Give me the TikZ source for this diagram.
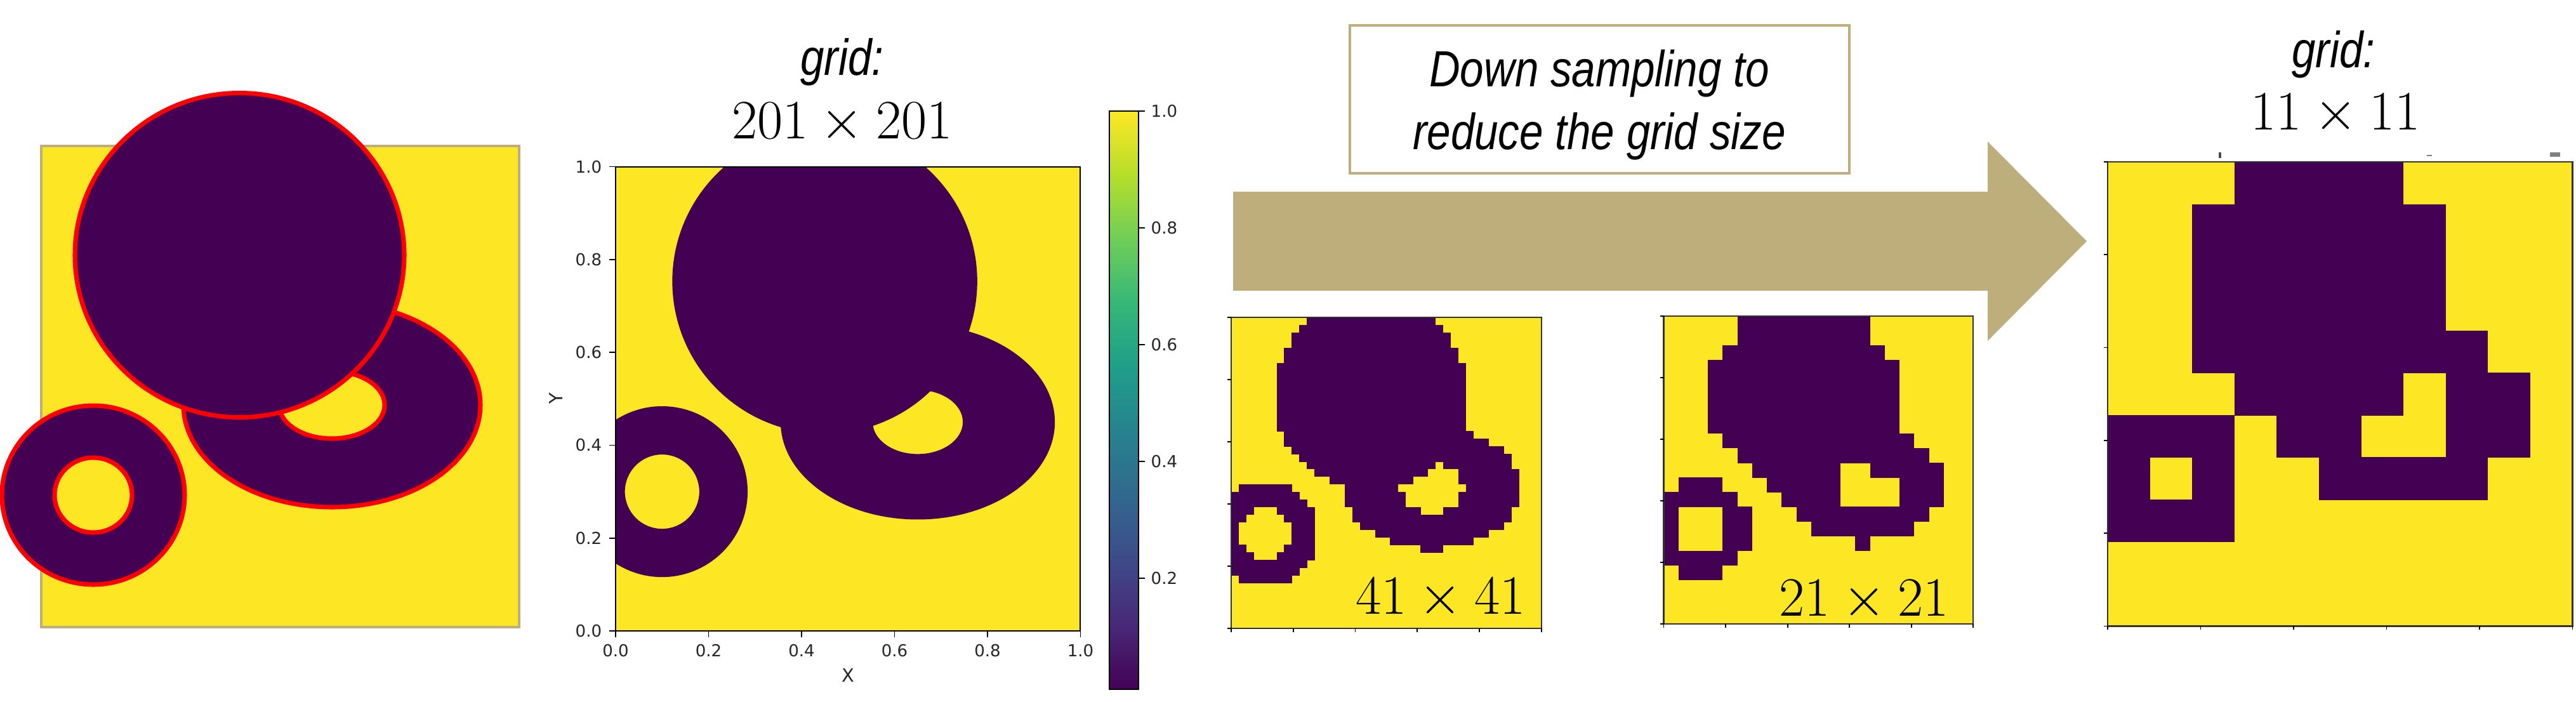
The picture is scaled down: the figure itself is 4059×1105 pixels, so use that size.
\documentclass[tikz,border=0pt]{standalone}
\usepackage{fontspec}
\newfontfamily\condsans[FakeStretch=0.84]{Liberation Sans}
\newfontfamily\djv{DejaVu Sans}
\definecolor{vyel}{HTML}{FDE725}
\definecolor{vpur}{HTML}{440154}
\definecolor{tanc}{HTML}{BDAE7C}
\definecolor{vir0}{HTML}{440154}
\definecolor{vir1}{HTML}{482878}
\definecolor{vir2}{HTML}{3E4A89}
\definecolor{vir3}{HTML}{31688E}
\definecolor{vir4}{HTML}{26828E}
\definecolor{vir5}{HTML}{1F9E89}
\definecolor{vir6}{HTML}{35B779}
\definecolor{vir7}{HTML}{6ECE58}
\definecolor{vir8}{HTML}{B5DE2B}
\definecolor{vir9}{HTML}{FDE725}
\begin{document}
\begin{tikzpicture}[x=0.01cm,y=-0.01cm,
  redshape/.style={draw=red, line width=2pt},
  axisline/.style={draw=black, line width=0.6pt},
  panelframe/.style={draw=black!80, line width=0.6pt},
  tickl/.style={draw=black, line width=0.5pt},
  ticklab/.style={font=\djv\fontsize{7.4}{8}\selectfont, text=black!85, inner sep=0pt},
  axlab/.style={font=\djv\fontsize{8.2}{9}\selectfont, text=black!85, inner sep=0pt},
  ittext/.style={font=\condsans\itshape\fontsize{22.8}{27}\selectfont, inner sep=0pt},
  mathlab/.style={font=\fontsize{24.75}{30}\selectfont, inner sep=0pt}]
\useasboundingbox (0,0) rectangle (4059,1105);
\fill[white] (0,0) rectangle (4059,1105);

% ---------- panel 1: geometry ----------
\fill[vyel] (65,230) rectangle (818,988);
\draw[tanc, line width=0.9pt] (65,230) rectangle (818,988);
\path[redshape, fill=vpur] (147,780) ellipse [x radius=144, y radius=141];
\path[redshape, fill=vyel] (147,780) ellipse [x radius=61, y radius=59];
\path[redshape, fill=vpur] (523,638) ellipse [x radius=234, y radius=161];
\path[redshape, fill=vyel] (523,638) ellipse [x radius=83, y radius=53];
\path[redshape, fill=vpur] (377.5,402) ellipse [x radius=259.5, y radius=255.5];

% ---------- panel 2: 201 x 201 plot ----------
\node[ittext, anchor=base] (g1) at (1327,118) {grid:};
\node[mathlab, anchor=base] (n201) at (1327,218) {$201\times201$};
\begin{scope}[shift={(970,994)}, x=7.32cm, y=7.31cm]
  \fill[vyel] (0,0) rectangle (1,1);
  \begin{scope}
    \clip (0,0) rectangle (1,1);
    \fill[vpur, even odd rule] (0.65,0.45) ellipse [x radius=0.295, y radius=0.21]
         (0.65,0.45) ellipse [x radius=0.097, y radius=0.069];
    \fill[vpur] (0.45,0.753) circle [radius=0.328];
    \fill[vpur, even odd rule] (0.1,0.3) circle [radius=0.184] (0.1,0.3) circle [radius=0.08];
  \end{scope}
  \draw[axisline] (0,0) rectangle (1,1);
  \foreach \p/\l [count=\k] in {0/0.0,0.2/0.2,0.4/0.4,0.6/0.6,0.8/0.8,1/1.0}{
    \draw[tickl] (\p,0) -- ++(0,-0.1cm) node[ticklab, anchor=north, yshift=-0.1cm] (xt\k) {\l};
    \draw[tickl] (0,\p) -- ++(-0.1cm,0) node[ticklab, anchor=east, xshift=-0.11cm] (yt\k) {\l};
  }
\end{scope}
\node[axlab] (xlab) at (1336,1064) {X};
\node[axlab, rotate=90] (ylab) at (876,628) {Y};

% colorbar
\foreach \k/\ca/\cb in {0/vir0/vir1,1/vir1/vir2,2/vir2/vir3,3/vir3/vir4,4/vir4/vir5,5/vir5/vir6,6/vir6/vir7,7/vir7/vir8,8/vir8/vir9}{
  \shade[bottom color=\ca, top color=\cb] (1748,{1086-911*\k/9+0.5}) rectangle (1794,{1086-911*(\k+1)/9});
}
\draw[axisline] (1748,175) rectangle (1794,1086);
\foreach \v/\yy [count=\k] in {1.0/175,0.8/359,0.6/543,0.4/727,0.2/911}{
  \draw[tickl] (1794,\yy) -- (1804,\yy);
  \node[ticklab, anchor=west] (cb\k) at (1813,\yy) {\v};
}

% ---------- arrow and text box ----------
\fill[tanc] (1943,302) -- (3132,302) -- (3132,223) -- (3288,380) -- (3132,537) -- (3132,458) -- (1943,458) -- cycle;
\draw[tanc, line width=0.9pt, fill=white] (2127,40) rectangle (2914,273);
\node[ittext, anchor=base] (t1) at (2520,136) {Down sampling to};
\node[ittext, anchor=base] (t2) at (2520,235) {reduce the grid size};

% ---------- panel 41 x 41 ----------
\begin{scope}[shift={(1940,500)}, x=0.11915cm, y=-0.11941cm]
  \fill[vyel] (0,0) rectangle (41,41);
  \foreach \j in {0,...,40}{
    \foreach \i in {0,...,40}{
      \pgfmathsetmacro\xx{\i/40}
      \pgfmathsetmacro\yy{1-\j/40}
      \pgfmathsetmacro\dc{(\xx-0.45)*(\xx-0.45)+(\yy-0.76)*(\yy-0.76)}
      \pgfmathsetmacro\de{((\xx-0.65)/0.29)*((\xx-0.65)/0.29)+((\yy-0.45)/0.202)*((\yy-0.45)/0.202)}
      \pgfmathsetmacro\dh{((\xx-0.65)/0.105)*((\xx-0.65)/0.105)+((\yy-0.45)/0.08)*((\yy-0.45)/0.08)}
      \pgfmathsetmacro\ds{(\xx-0.1)*(\xx-0.1)+(\yy-0.3)*(\yy-0.3)}
      \pgfmathtruncatemacro\inside{or(\dc<0.1024, or(and(\de<1,\dh>1), and(\ds<0.02924,\ds>0.007225)))}
      \ifnum\inside=1 \fill[vpur] (\i,\j) rectangle (\i+1.04,\j+1.04);\fi
    }
  }
  \draw[panelframe] (0,0) rectangle (41,41);
  \foreach \f in {0,0.2,0.4,0.6,0.8,1}{
    \draw[tickl] (0,41*\f) -- ++(-0.06cm,0);
    \draw[tickl] (41*\f,41) -- ++(0,-0.06cm);
  }
\end{scope}
\node[mathlab, anchor=base] (n41) at (2270,967) {$41\times41$};

% ---------- panel 21 x 21 ----------
\begin{scope}[shift={(2621.5,498)}, x=0.23214cm, y=-0.23095cm]
  \fill[vyel] (0,0) rectangle (21,21);
  \foreach \j/\a/\b in {0/5/13,1/5/13,2/4/14,3/3/15,4/3/15,5/3/15,6/3/15,7/3/15,8/4/16,9/5/17,
     10/6/11,10/14/18,11/1/3,11/7/11,11/16/18,12/0/4,12/8/11,12/16/18,
     13/0/0,13/4/5,13/9/17,14/0/0,14/4/5,14/10/16,15/0/0,15/4/5,15/13/13,16/0/4,17/1/3}{
    \fill[vpur] (\a,\j) rectangle (\b+1,\j+1.02);
  }
  \draw[panelframe] (0,0) rectangle (21,21);
  \foreach \f in {0,0.2,0.4,0.6,0.8,1}{
    \draw[tickl] (0,21*\f) -- ++(-0.06cm,0);
    \draw[tickl] (21*\f,21) -- ++(0,-0.06cm);
  }
\end{scope}
\node[mathlab, anchor=base] (n21) at (2937,970) {$21\times21$};

% ---------- panel 11 x 11 ----------
\node[ittext, anchor=base] (g2) at (3677,106) {grid:};
\node[mathlab, anchor=base] (n11) at (3680,204) {$11\times11$};
\fill[black!70] (3496,240) rectangle (3500,249);
\fill[black!50] (3824,244) rectangle (3832,246);
\fill[black!50] (4018,240) rectangle (4034,247);
\begin{scope}[shift={(3321,255)}, x=0.66545cm, y=-0.66455cm]
  \fill[vyel] (0,0) rectangle (11,11);
  \foreach \j/\a/\b in {0/3/6,1/2/7,2/2/7,3/2/7,4/2/8,5/3/6,5/8/9,6/0/2,6/4/5,6/8/9,7/0/0,7/2/2,7/5/8,8/0/2}{
    \fill[vpur] (\a,\j) rectangle (\b+1,\j+1.01);
  }
  \draw[panelframe] (0,0) rectangle (11,11);
  \foreach \f in {0,0.2,0.4,0.6,0.8,1}{
    \draw[tickl] (0,11*\f) -- ++(-0.06cm,0);
    \draw[tickl] (11*\f,11) -- ++(0,-0.06cm);
  }
\end{scope}
\end{tikzpicture}
\end{document}
